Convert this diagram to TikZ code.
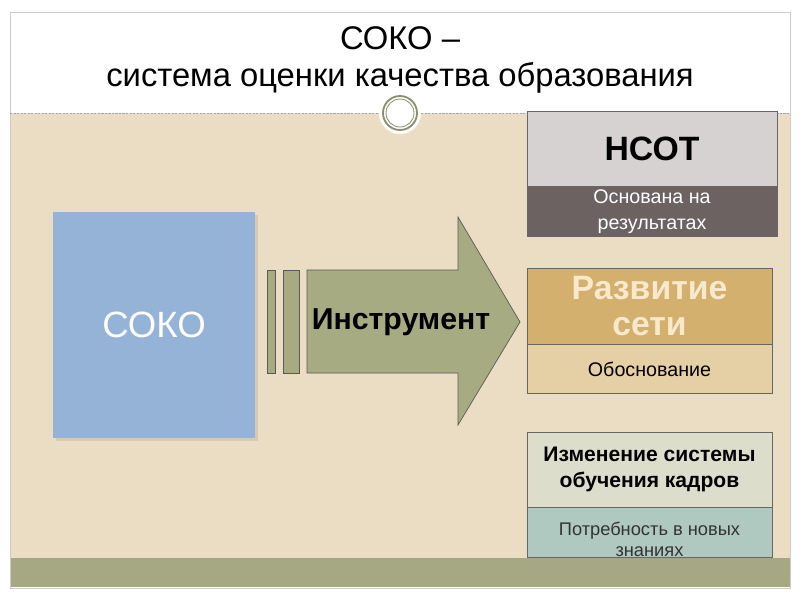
\documentclass[tikz,border=0pt]{standalone}
\usepackage{fontspec}
\setmainfont{Liberation Sans}
\usetikzlibrary{positioning,shadows}
\definecolor{beige}{HTML}{EBDDC3}
\definecolor{olive}{HTML}{A5A882}
\definecolor{soko-blue}{HTML}{95B3D7}
\definecolor{arrow-green}{HTML}{A6AB82}
\definecolor{nsot-top}{HTML}{D6D2D2}
\definecolor{nsot-bot}{HTML}{6C6261}
\definecolor{net-top}{HTML}{D4B06F}
\definecolor{net-bot}{HTML}{E5CFA5}
\definecolor{net-text}{HTML}{F8E9CC}
\definecolor{cadre-top}{HTML}{DDDDCB}
\definecolor{cadre-bot}{HTML}{AFC8C0}

\begin{document}
\begin{tikzpicture}[x=0.025cm, y=-0.025cm,
    box/.style={draw=black!60, inner sep=0pt, align=center, minimum width=6.125cm},
    head/.style={box, minimum height=1.875cm, font=\bfseries},
    sub/.style={box, minimum height=1.25cm},
    arr/.style={draw=black!65, fill=arrow-green, line width=0.5pt},
    shadowed/.style={drop shadow={opacity=0.2, shadow xshift=2pt, shadow yshift=-2pt}}]
  % slide background
  \fill[white] (0,0) rectangle (800,600);
  \fill[beige] (10,113) rectangle (790,558);
  \fill[olive] (10,558) rectangle (790,587);
  \draw[black!20] (10,12) rectangle (790,588);
  \draw[black!35, dash pattern=on 1.5pt off 1pt] (10,113) -- (790,113);
  \fill[white] (400,113) circle[radius=21];
  \draw[olive!85!black, line width=1.3pt] (400,113) circle[radius=17];
  \draw[olive!85!black, line width=0.6pt] (400,113) circle[radius=14];
  \node[font=\fontsize{23.3}{26}\selectfont, align=center] (title) at (400,60)
    {СОКО –\\ система оценки качества образования};

  % left block and arrow
  \node[fill=soko-blue, shadowed, minimum width=5.05cm, minimum height=5.65cm,
    text=white, font=\fontsize{26}{30}\selectfont] (soko) at (154,325) {СОКО};
  \draw[arr] (267,270) rectangle (275,373);
  \draw[arr] (283,270) rectangle (299,373);
  \draw[arr] (307,270) -- (458,270) -- (458,217) -- (520,322) -- (458,425)
    -- (458,373) -- (307,373) -- cycle;
  \node[font=\fontsize{21.5}{24}\selectfont\bfseries] (tool) at (401,322) {Инструмент};

  % right column
  \node[head, fill=nsot-top, minimum width=6.25cm, font=\fontsize{24}{28}\selectfont\bfseries]
    (nsot) at (652,148.5) {НСОТ};
  \node[sub, fill=nsot-bot, minimum width=6.25cm, text=white,
    font=\fontsize{14}{18}\selectfont, below=0pt of nsot] (nsotsub)
    {Основана на\\ результатах};

  \node[head, fill=net-top, minimum height=1.9cm, text=net-text,
    font=\fontsize{24}{26}\selectfont\bfseries] (net) at (649.5,306) {Развитие\\ сети};
  \node[sub, fill=net-bot, minimum height=1.225cm, font=\fontsize{14}{18}\selectfont,
    below=0pt of net] (netsub) {Обоснование};

  \node[head, fill=cadre-top, font=\fontsize{15}{18}\selectfont\bfseries]
    (cadre) at (649.5,469.5) {Изменение системы\\ обучения кадров};
  \node[sub, fill=cadre-bot, below=0pt of cadre] (cadresub) {};
  \node[font=\fontsize{13}{15}\selectfont, align=center, text=black!80]
    (cadretext) at (649.5,539.5) {Потребность в новых\\ знаниях};
\end{tikzpicture}
\end{document}
